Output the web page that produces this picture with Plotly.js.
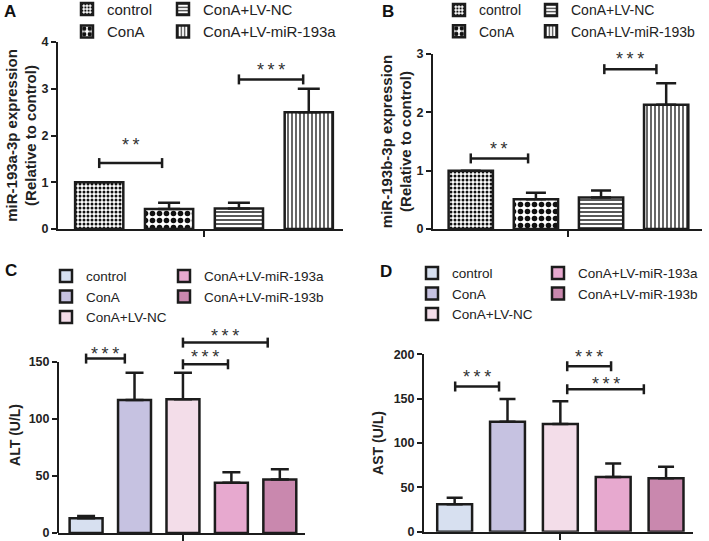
<!DOCTYPE html>
<html><head><meta charset="utf-8">
<script src="https://cdn.plot.ly/plotly-3.0.1.min.js"></script>
<style>html,body{margin:0;padding:0;background:#fff}#chart{width:709px;height:541px}</style>
</head><body><div id="chart"></div>
<script>
// ---------------- data ----------------
const groupsA = ['control', 'ConA', 'ConA+LV-NC', 'ConA+LV-miR-193a'];
const mir193aExpr = [1.00, 0.43, 0.44, 2.50];
const mir193aErr = [0, 0.13, 0.12, 0.50];

const groupsB = ['control', 'ConA', 'ConA+LV-NC', 'ConA+LV-miR-193b'];
const mir193bExpr = [1.00, 0.51, 0.54, 2.13];
const mir193bErr = [0, 0.11, 0.12, 0.37];

const groupsCD = ['control', 'ConA', 'ConA+LV-NC', 'ConA+LV-miR-193a', 'ConA+LV-miR-193b'];
const altVals = [12.9, 116.7, 117.3, 44.1, 47.0];
const altErr = [2.1, 23.9, 23.3, 9.1, 9.0];
const astVals = [30.9, 124.0, 121.4, 61.7, 60.2];
const astErr = [7.4, 25.6, 25.6, 15.3, 13.1];

// significance brackets (x in bar-index units, y in data units)
const sigAFrom = [0, 2], sigATo = [0.9, 2.92], sigAY = [1.41, 3.2], sigALabel = ['**', '***'];
const sigBFrom = [0, 2.05], sigBTo = [0.88, 2.85], sigBY = [1.21, 2.74], sigBLabel = ['**', '***'];
const sigCFrom = [0, 2, 2], sigCTo = [0.8, 2.93, 3.75], sigCY = [153, 148, 167], sigCLabel = ['***', '***', '***'];
const sigDFrom = [0.01, 2.13, 2.13], sigDTo = [0.84, 2.96, 3.58], sigDY = [163.7, 186.5, 160.6], sigDLabel = ['***', '***', '***'];

const yTicksA = [0, 1, 2, 3, 4];
const yTicksB = [0, 1, 2, 3];
const yTicksC = [0, 50, 100, 150];
const yTicksD = [0, 50, 100, 150, 200];

// ---------------- styles ----------------
const FONT = 'Arial, "Liberation Sans", Helvetica, sans-serif';
const INK = '#1c1c1c';
const W = 709, H = 541;
const px2x = p => p / W;
const px2y = p => 1 - p / H;

const patternFills = [
  {shape: '.', size: 4, solidity: 0.45},
  {shape: '.', size: 7, solidity: 0.5},
  {shape: '-', size: 4, solidity: 0.35},
  {shape: '|', size: 4, solidity: 0.32}
];
const colorFills = ['#d7e0f0', '#c6c2e1', '#f3dde9', '#e7a9cf', '#c988ae'];

const panels = [
  {letter: 'A', letterPos: [10, 12], ax: '', groups: groupsA, vals: mir193aExpr, errs: mir193aErr,
   from: sigAFrom, to: sigATo, sy: sigAY, lab: sigALabel, starShift: [9, 0],
   ticks: yTicksA, yrange: [0, 4], nativeLine: true,
   xpx: [58, 343], ypx: [229, 42], xpad: [0.59, 0.49], barW: 0.69, capW: 11,
   title: 'miR-193a-3p expression<br>(Relative to control)', titleSize: 15, standoff: 1,
   cols: [[0, 1], [2, 3]], colTextX: [107, 203], row1Y: 9, legFont: 15, capMode: 'pattern'},
  {letter: 'B', letterPos: [388, 12], ax: '2', groups: groupsB, vals: mir193bExpr, errs: mir193bErr,
   from: sigBFrom, to: sigBTo, sy: sigBY, lab: sigBLabel, starShift: [0, 1.5],
   ticks: yTicksB, yrange: [0, 3], nativeLine: true,
   xpx: [433, 702], ypx: [229, 54], xpad: [0.58, 0.55], barW: 0.68, capW: 10,
   title: 'miR-193b-3p expression<br>(Relative to control)', titleSize: 15, standoff: 1,
   cols: [[0, 1], [2, 3]], colTextX: [479, 571], row1Y: 10, legFont: 14, capMode: 'pattern'},
  {letter: 'C', letterPos: [11, 270], ax: '3', groups: groupsCD, vals: altVals, errs: altErr,
   from: sigCFrom, to: sigCTo, sy: sigCY, lab: sigCLabel, starShift: [-4.5, -2, -2],
   ticks: yTicksC, yrange: [0, 172], nativeLine: false, lineTop: 150,
   xpx: [58, 305], ypx: [533, 533 - 172 * 1.14], xpad: [0.58, 0.52], barW: 0.68, capW: 9,
   title: 'ALT (U/L)', titleSize: 14, standoff: 4,
   cols: [[0, 1, 2], [3, 4]], colTextX: [86, 204], row1Y: 276, legFont: 13.5, capMode: 'color'},
  {letter: 'D', letterPos: [386, 271], ax: '4', groups: groupsCD, vals: astVals, errs: astErr,
   from: sigDFrom, to: sigDTo, sy: sigDY, lab: sigDLabel, starShift: [1, 0, -3.5],
   ticks: yTicksD, yrange: [0, 200], nativeLine: true,
   xpx: [424, 693], ypx: [531.7, 354.3], xpad: [0.58, 0.51], barW: 0.66, capW: 8,
   title: 'AST (U/L)', titleSize: 14, standoff: 7,
   cols: [[0, 1, 2], [3, 4]], colTextX: [452, 578], row1Y: 273, legFont: 13.5, capMode: 'color'}
];

const STAR_FONT = 18;
const data = [];
const layout = {
  width: W, height: H,
  margin: {l: 0, r: 0, t: 0, b: 0, autoexpand: false},
  paper_bgcolor: '#fff', plot_bgcolor: 'rgba(0,0,0,0)',
  barmode: 'overlay',
  font: {family: FONT, color: INK},
  shapes: [], annotations: []
};

let legendCount = 0;
panels.forEach(p => {
  const xa = 'x' + p.ax, ya = 'y' + p.ax;
  const n = p.groups.length;
  const legendOf = {};
  p.cols.forEach((col, ci) => {
    legendCount += 1;
    const lid = legendCount === 1 ? 'legend' : 'legend' + legendCount;
    col.forEach(i => { legendOf[i] = lid; });
    const h = Math.max(p.legFont * 1.3, 16) + 3;
    layout[lid] = {
      x: px2x(p.colTextX[ci] - 40), xanchor: 'left',
      y: px2y(p.row1Y - h / 2 - 5), yanchor: 'top',
      orientation: 'v', bgcolor: 'rgba(0,0,0,0)', borderwidth: 0,
      font: {family: FONT, size: p.legFont, color: '#222'},
      traceorder: 'normal'
    };
  });

  p.groups.forEach((g, i) => {
    const marker = {line: {color: INK, width: 2.5}};
    if (p.capMode === 'pattern') {
      marker.color = '#ffffff';
      marker.pattern = Object.assign({fgcolor: '#111', bgcolor: '#ffffff', fillmode: 'replace'}, patternFills[i]);
    } else {
      marker.color = colorFills[i];
    }
    data.push({
      type: 'bar', name: g, x: [i], y: [p.vals[i]],
      xaxis: xa, yaxis: ya, width: p.barW,
      marker: marker,
      error_y: {type: 'data', symmetric: false, array: [p.errs[i]], arrayminus: [0],
                color: INK, thickness: 2.5, width: p.capW},
      legend: legendOf[i], showlegend: true, hoverinfo: 'skip'
    });
  });

  layout['xaxis' + p.ax] = {
    domain: [px2x(p.xpx[0]), px2x(p.xpx[1])], anchor: ya,
    range: [-p.xpad[0], n - 1 + p.xpad[1]],
    showline: true, linecolor: INK, linewidth: 2,
    tickvals: [(n - 1) / 2], ticktext: [''], ticks: 'outside', ticklen: 6, tickwidth: 2, tickcolor: INK,
    showticklabels: false, showgrid: false, zeroline: false, fixedrange: true
  };
  layout['yaxis' + p.ax] = {
    domain: [px2y(p.ypx[0]), px2y(p.ypx[1])], anchor: xa,
    range: p.yrange,
    showline: p.nativeLine, linecolor: INK, linewidth: 2,
    tickvals: p.ticks, ticks: 'outside', ticklen: 5, tickwidth: 2, tickcolor: INK,
    tickfont: {family: FONT, size: 12.5, weight: 'bold', color: '#222'},
    showgrid: false, zeroline: false, fixedrange: true, automargin: false,
    title: {text: p.title, font: {family: FONT, size: p.titleSize, weight: 'bold', color: '#222'}, standoff: p.standoff}
  };
  if (!p.nativeLine) {
    layout.shapes.push({type: 'line', xref: xa + ' domain', yref: ya, x0: 0, x1: 0,
      y0: p.yrange[0], y1: p.lineTop, line: {color: INK, width: 2}});
  }

  p.from.forEach((f, k) => {
    const t = p.to[k], yv = p.sy[k];
    layout.shapes.push({type: 'line', xref: xa, yref: ya, x0: f, x1: t, y0: yv, y1: yv,
      line: {color: INK, width: 2.5}});
    [f, t].forEach(xe => layout.shapes.push({type: 'line', xref: xa, yref: ya, x0: xe, x1: xe,
      ysizemode: 'pixel', yanchor: yv, y0: -5, y1: 5, line: {color: INK, width: 2.5}}));
    layout.annotations.push({xref: xa, yref: ya, x: (f + t) / 2, y: yv, yanchor: 'bottom',
      yshift: p.starShift[k] - 3, showarrow: false, text: p.lab[k].split('').join('\u2009'),
      font: {family: FONT, size: STAR_FONT, color: '#333'}});
  });

  layout.annotations.push({xref: 'paper', yref: 'paper', x: px2x(p.letterPos[0]), y: px2y(p.letterPos[1]),
    xanchor: 'center', yanchor: 'middle', showarrow: false, text: '<b>' + p.letter + '</b>',
    font: {family: FONT, size: 17, color: '#111'}});
});

Plotly.newPlot('chart', data, layout, {staticPlot: true, displayModeBar: false});
</script>
</body></html>
